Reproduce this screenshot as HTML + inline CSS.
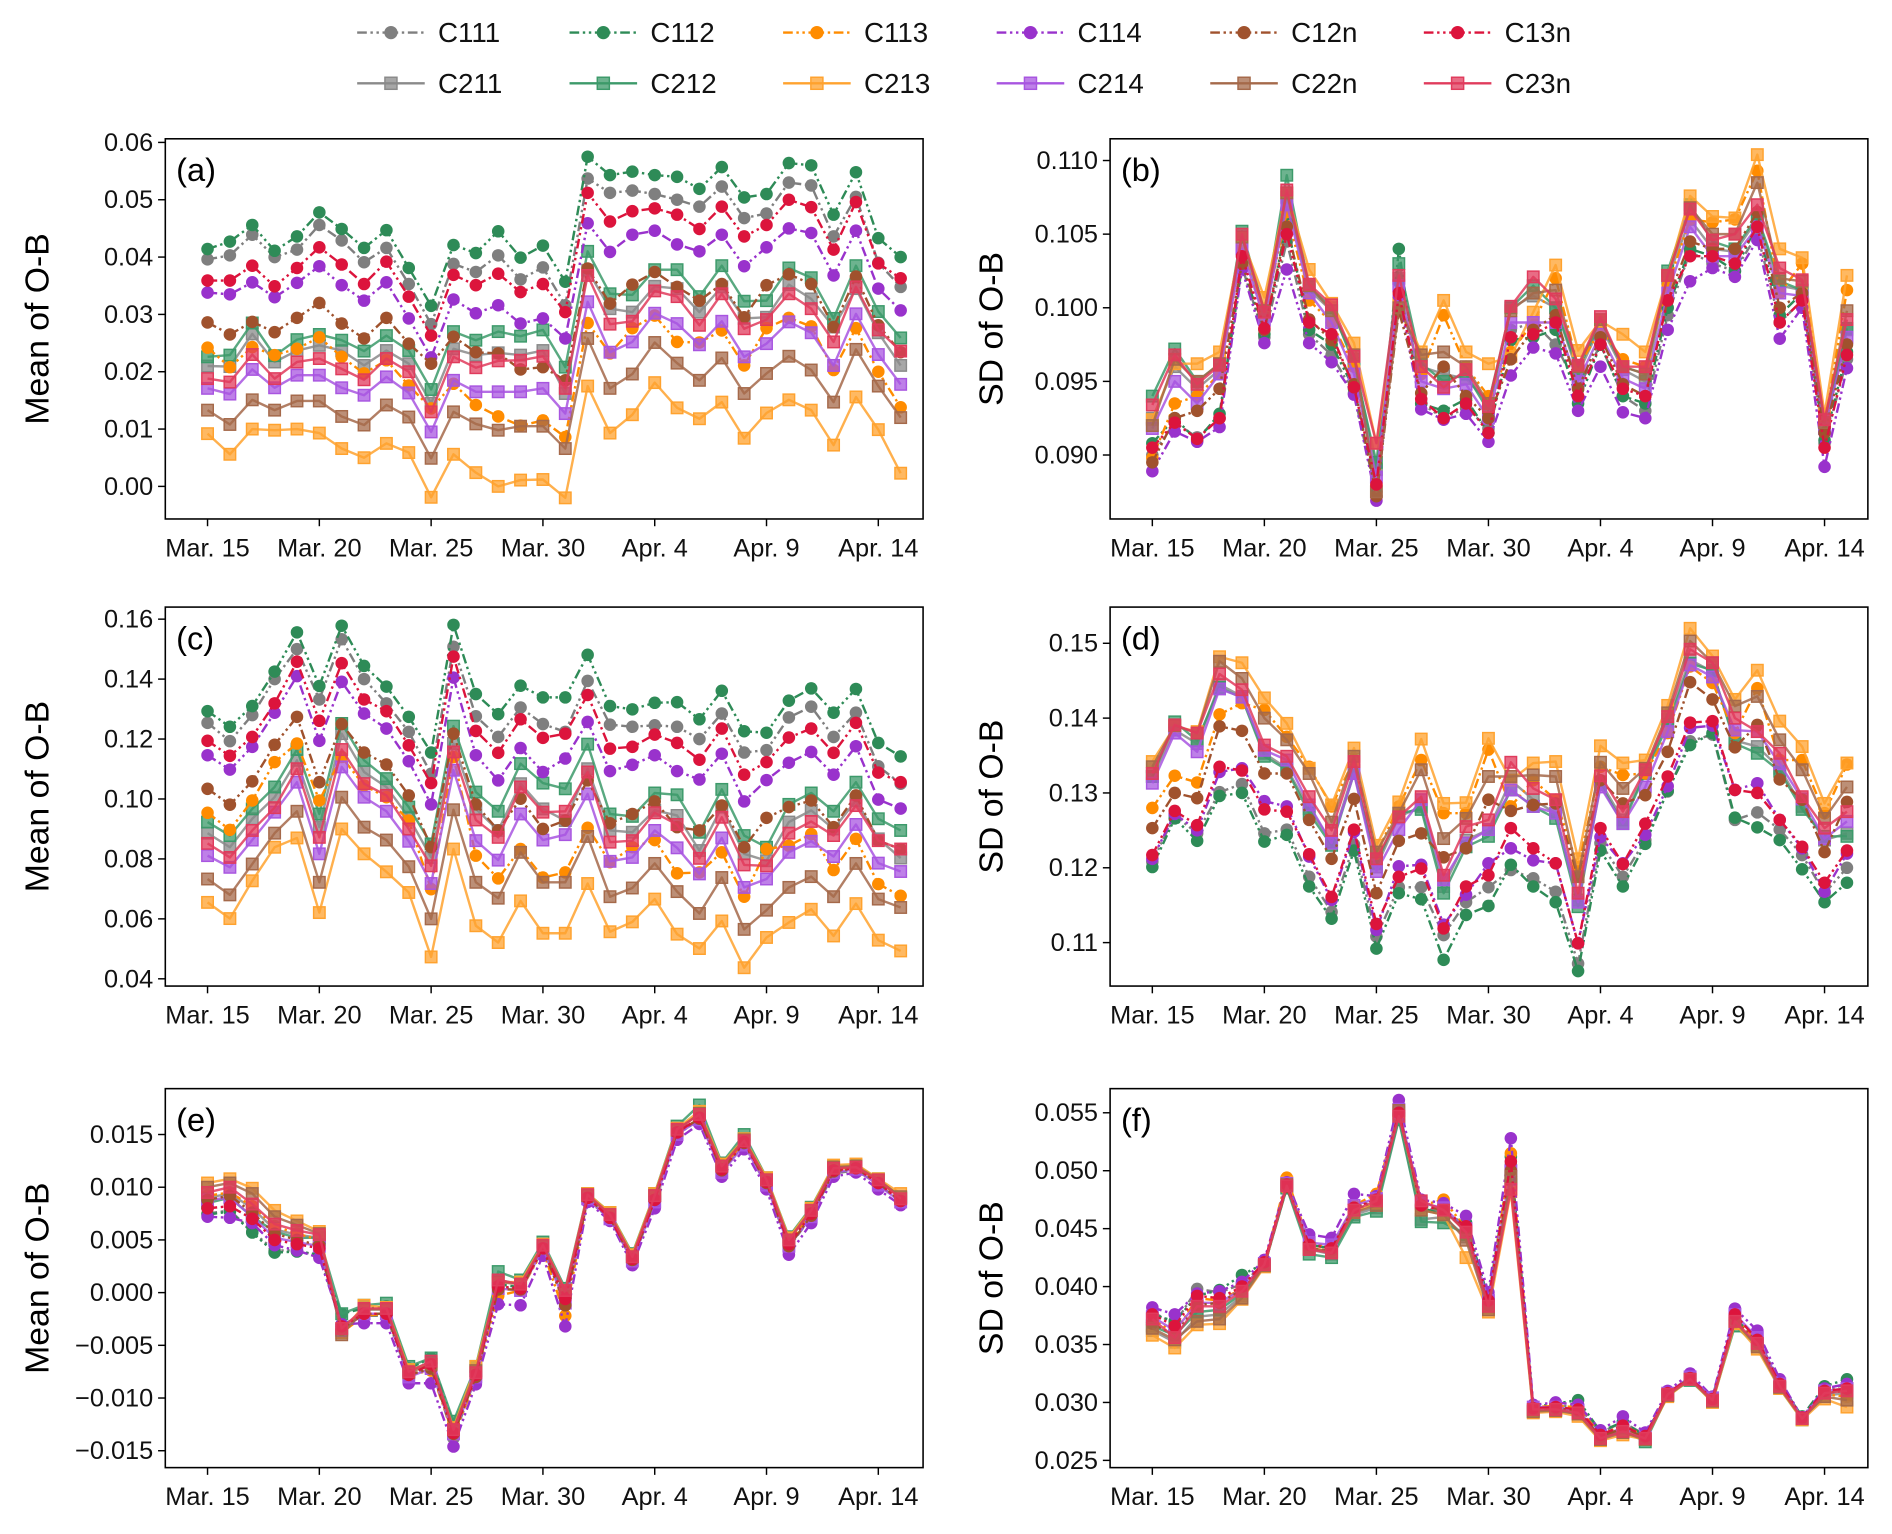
<!DOCTYPE html>
<html><head><meta charset="utf-8"><style>
html,body{margin:0;padding:0;background:#fff;}
svg{display:block;font-family:"Liberation Sans",sans-serif;}
</style></head><body>
<svg id="fig" width="1892" height="1534" viewBox="0 0 1568 1271" preserveAspectRatio="none" xmlns="http://www.w3.org/2000/svg"></svg>
<script>
const dates=["Mar. 15","Mar. 16","Mar. 17","Mar. 18","Mar. 19","Mar. 20","Mar. 21","Mar. 22","Mar. 23","Mar. 24","Mar. 25","Mar. 26","Mar. 27","Mar. 28","Mar. 29","Mar. 30","Mar. 31","Apr. 1","Apr. 2","Apr. 3","Apr. 4","Apr. 5","Apr. 6","Apr. 7","Apr. 8","Apr. 9","Apr. 10","Apr. 11","Apr. 12","Apr. 13","Apr. 14","Apr. 15"];
const xTickIdx=[0,5,10,15,20,25,30];
const seriesNames=["C111","C112","C113","C114","C12n","C13n","C211","C212","C213","C214","C22n","C23n"];
const seriesColors=["#7f7f7f","#2e8b57","#ff8c00","#9932cc","#a0522d","#dc143c","#8a8a8a","#3c9a6a","#ffa22e","#a855e0","#a5694a","#e03b5c"];

// Panel (a) Mean of O-B
const aC111=[0.0396,0.0403,0.0439,0.0400,0.0413,0.0456,0.0429,0.0391,0.0416,0.0353,0.0283,0.0388,0.0374,0.0403,0.0361,0.0382,0.0316,0.0537,0.0512,0.0516,0.0510,0.0500,0.0488,0.0523,0.0468,0.0476,0.0530,0.0525,0.0436,0.0505,0.0390,0.0348];
const aC112=[0.0414,0.0427,0.0456,0.0411,0.0436,0.0478,0.0449,0.0416,0.0447,0.0381,0.0315,0.0421,0.0407,0.0445,0.0399,0.0420,0.0357,0.0575,0.0543,0.0549,0.0543,0.0540,0.0519,0.0557,0.0504,0.0510,0.0564,0.0560,0.0474,0.0548,0.0433,0.0400];
const aC113=[0.0242,0.0208,0.0243,0.0229,0.0240,0.0260,0.0226,0.0197,0.0220,0.0176,0.0136,0.0179,0.0142,0.0122,0.0106,0.0115,0.0086,0.0285,0.0232,0.0276,0.0298,0.0252,0.0251,0.0272,0.0211,0.0276,0.0294,0.0279,0.0203,0.0276,0.0200,0.0138];
const aC114=[0.0338,0.0335,0.0356,0.0330,0.0355,0.0384,0.0351,0.0324,0.0356,0.0293,0.0225,0.0326,0.0302,0.0316,0.0284,0.0293,0.0258,0.0459,0.0409,0.0439,0.0446,0.0422,0.0410,0.0439,0.0384,0.0417,0.0450,0.0442,0.0368,0.0446,0.0345,0.0307];
const aC12n=[0.0286,0.0265,0.0287,0.0269,0.0294,0.0320,0.0284,0.0258,0.0294,0.0249,0.0214,0.0261,0.0234,0.0232,0.0204,0.0208,0.0185,0.0380,0.0319,0.0352,0.0374,0.0348,0.0324,0.0353,0.0295,0.0351,0.0370,0.0353,0.0278,0.0366,0.0281,0.0234];
const aC13n=[0.0359,0.0359,0.0385,0.0349,0.0381,0.0417,0.0387,0.0353,0.0392,0.0331,0.0263,0.0369,0.0351,0.0371,0.0339,0.0353,0.0304,0.0512,0.0462,0.0480,0.0485,0.0474,0.0449,0.0488,0.0436,0.0456,0.0500,0.0487,0.0413,0.0496,0.0389,0.0363];
const aC211=[0.0210,0.0209,0.0266,0.0217,0.0237,0.0246,0.0237,0.0211,0.0237,0.0214,0.0145,0.0240,0.0229,0.0233,0.0229,0.0237,0.0162,0.0377,0.0310,0.0304,0.0349,0.0345,0.0304,0.0348,0.0293,0.0295,0.0352,0.0327,0.0278,0.0345,0.0268,0.0211];
const aC212=[0.0226,0.0229,0.0285,0.0228,0.0256,0.0265,0.0255,0.0236,0.0263,0.0237,0.0169,0.0270,0.0255,0.0270,0.0262,0.0273,0.0208,0.0410,0.0336,0.0334,0.0378,0.0378,0.0331,0.0385,0.0323,0.0324,0.0381,0.0364,0.0293,0.0385,0.0305,0.0259];
const aC213=[0.0092,0.0056,0.0100,0.0098,0.0100,0.0093,0.0066,0.0050,0.0075,0.0059,-0.0019,0.0056,0.0024,0.0000,0.0011,0.0012,-0.0020,0.0175,0.0093,0.0125,0.0181,0.0137,0.0118,0.0147,0.0084,0.0128,0.0151,0.0133,0.0072,0.0156,0.0099,0.0023];
const aC214=[0.0171,0.0161,0.0204,0.0172,0.0194,0.0194,0.0172,0.0159,0.0191,0.0163,0.0095,0.0185,0.0165,0.0165,0.0165,0.0171,0.0127,0.0322,0.0234,0.0252,0.0302,0.0284,0.0247,0.0288,0.0226,0.0249,0.0287,0.0268,0.0211,0.0301,0.0230,0.0178];
const aC22n=[0.0133,0.0108,0.0151,0.0133,0.0149,0.0149,0.0122,0.0107,0.0142,0.0121,0.0049,0.0130,0.0109,0.0098,0.0105,0.0105,0.0066,0.0258,0.0171,0.0196,0.0251,0.0215,0.0185,0.0224,0.0162,0.0197,0.0227,0.0203,0.0147,0.0239,0.0175,0.0120];
const aC23n=[0.0188,0.0182,0.0230,0.0188,0.0217,0.0223,0.0205,0.0186,0.0223,0.0200,0.0130,0.0226,0.0207,0.0219,0.0220,0.0227,0.0171,0.0368,0.0283,0.0288,0.0341,0.0331,0.0281,0.0336,0.0275,0.0291,0.0336,0.0310,0.0252,0.0348,0.0273,0.0236];

// Panel (b) SD of O-B
const bC111=[0.0900,0.0922,0.0912,0.0925,0.1028,0.0980,0.1045,0.0982,0.0968,0.0942,0.0872,0.1020,0.0935,0.0925,0.0932,0.0918,0.0985,0.0990,0.0975,0.0945,0.0975,0.0940,0.0930,0.0995,0.1038,0.1030,0.1025,0.1050,0.0990,0.1005,0.0908,0.0965];
const bC112=[0.0908,0.0925,0.0910,0.0928,0.1030,0.0982,0.1058,0.0985,0.0975,0.0945,0.0875,0.1040,0.0935,0.0930,0.0938,0.0915,0.0978,0.0980,0.0985,0.0935,0.0975,0.0940,0.0935,0.1000,0.1040,0.1035,0.1025,0.1057,0.0995,0.1010,0.0910,0.0970];
const bC113=[0.0898,0.0935,0.0940,0.0955,0.1040,0.0995,0.1065,0.1005,0.0990,0.0960,0.0880,0.1005,0.0955,0.0995,0.0960,0.0940,0.0970,0.0990,0.1020,0.0960,0.0985,0.0965,0.0960,0.1015,0.1060,0.1058,0.1060,0.1093,0.1010,0.1030,0.0920,0.1012];
const bC114=[0.0889,0.0916,0.0909,0.0919,0.1026,0.0976,0.1026,0.0976,0.0963,0.0941,0.0869,0.1008,0.0931,0.0924,0.0928,0.0909,0.0954,0.0973,0.0969,0.0930,0.0960,0.0929,0.0925,0.0985,0.1018,0.1027,0.1021,0.1046,0.0979,0.1000,0.0892,0.0959];
const bC12n=[0.0895,0.0925,0.0930,0.0945,0.1030,0.0985,0.1055,0.0992,0.0978,0.0948,0.0872,0.0998,0.0942,0.0960,0.0940,0.0925,0.0965,0.0985,0.0995,0.0945,0.0980,0.0948,0.0940,0.1005,0.1045,0.1040,0.1040,0.1065,0.1000,0.1010,0.0915,0.0975];
const bC13n=[0.0905,0.0922,0.0911,0.0925,0.1035,0.0986,0.1050,0.0990,0.0982,0.0946,0.0880,0.1010,0.0938,0.0925,0.0935,0.0915,0.0980,0.0982,0.0990,0.0940,0.0975,0.0945,0.0940,0.1005,0.1035,0.1035,0.1030,0.1055,0.0990,0.1005,0.0905,0.0968];
const bC211=[0.0925,0.0960,0.0945,0.0958,0.1045,0.0995,0.1075,0.1012,0.0998,0.0965,0.0890,0.1020,0.0960,0.0955,0.0952,0.0935,0.1000,0.1008,0.1000,0.0955,0.0988,0.0958,0.0950,0.1020,0.1060,0.1040,0.1038,0.1060,0.1015,0.1012,0.0920,0.0985];
const bC212=[0.0940,0.0972,0.0950,0.0962,0.1052,0.0998,0.1090,0.1014,0.1000,0.0962,0.0895,0.1030,0.0962,0.0950,0.0955,0.0930,0.1000,0.1015,0.1000,0.0958,0.0990,0.0960,0.0955,0.1025,0.1070,0.1045,0.1040,0.1062,0.1018,0.1012,0.0918,0.0986];
const bC213=[0.0924,0.0962,0.0962,0.0970,0.1047,0.1007,0.1078,0.1026,0.1003,0.0976,0.0908,0.1003,0.0970,0.1005,0.0970,0.0962,0.0967,0.0997,0.1029,0.0971,0.0991,0.0982,0.0970,0.1022,0.1076,0.1062,0.1061,0.1104,0.1040,0.1034,0.0928,0.1022];
const bC214=[0.0918,0.0950,0.0935,0.0955,0.1040,0.0992,0.1070,0.1010,0.0990,0.0955,0.0885,0.1015,0.0950,0.0945,0.0948,0.0925,0.0990,0.0990,0.0990,0.0950,0.0982,0.0952,0.0945,0.1010,0.1055,0.1035,0.1035,0.1055,0.1010,0.1008,0.0918,0.0980];
const bC22n=[0.0920,0.0965,0.0950,0.0962,0.1048,0.0998,0.1078,0.1015,0.0998,0.0968,0.0875,0.1000,0.0968,0.0970,0.0960,0.0935,0.0998,0.1010,0.1012,0.0960,0.0992,0.0960,0.0955,0.1022,0.1068,0.1050,0.1050,0.1085,0.1020,0.1018,0.0922,0.0998];
const bC23n=[0.0934,0.0968,0.0948,0.0961,0.1050,0.0997,0.1080,0.1016,0.1002,0.0967,0.0908,0.1022,0.0960,0.0946,0.0958,0.0933,0.1001,0.1021,0.1006,0.0961,0.0994,0.0960,0.0960,0.1022,0.1067,0.1046,0.1050,0.1070,0.1027,0.1019,0.0924,0.0992];

// Panel (c) Mean of O-B
const cC111=[0.1254,0.1193,0.1280,0.1400,0.1500,0.1332,0.1533,0.1400,0.1319,0.1224,0.1084,0.1508,0.1276,0.1207,0.1305,0.1250,0.1224,0.1394,0.1248,0.1241,0.1246,0.1241,0.1200,0.1285,0.1155,0.1163,0.1272,0.1308,0.1207,0.1288,0.1109,0.1051];
const cC112=[0.1293,0.1241,0.1310,0.1425,0.1556,0.1377,0.1578,0.1444,0.1375,0.1274,0.1155,0.1581,0.1350,0.1283,0.1378,0.1339,0.1339,0.1481,0.1310,0.1299,0.1321,0.1323,0.1266,0.1361,0.1226,0.1221,0.1328,0.1369,0.1288,0.1367,0.1187,0.1142];
const cC113=[0.0954,0.0897,0.0995,0.1123,0.1185,0.0995,0.1140,0.1045,0.1006,0.0928,0.0699,0.1140,0.0811,0.0735,0.0833,0.0738,0.0755,0.0904,0.0789,0.0839,0.0863,0.0752,0.0755,0.0822,0.0674,0.0833,0.0844,0.0883,0.0763,0.0867,0.0716,0.0677];
const cC114=[0.1146,0.1098,0.1174,0.1288,0.1410,0.1194,0.1391,0.1285,0.1235,0.1126,0.0982,0.1405,0.1146,0.1062,0.1170,0.1090,0.1135,0.1257,0.1093,0.1114,0.1146,0.1093,0.1065,0.1151,0.0992,0.1063,0.1121,0.1157,0.1081,0.1176,0.0998,0.0968];
const cC12n=[0.1034,0.0981,0.1059,0.1181,0.1274,0.1056,0.1250,0.1155,0.1115,0.1012,0.0839,0.1218,0.0982,0.0895,0.1001,0.0900,0.0928,0.1062,0.0919,0.0950,0.0992,0.0906,0.0895,0.0978,0.0839,0.0937,0.0973,0.0995,0.0906,0.1012,0.0861,0.0833];
const cC13n=[0.1194,0.1144,0.1207,0.1319,0.1458,0.1261,0.1453,0.1332,0.1293,0.1179,0.1053,0.1475,0.1227,0.1154,0.1266,0.1204,0.1218,0.1347,0.1168,0.1174,0.1215,0.1187,0.1131,0.1235,0.1081,0.1123,0.1205,0.1235,0.1154,0.1254,0.1088,0.1056];
const cC211=[0.0886,0.0839,0.0934,0.1006,0.1129,0.0906,0.1218,0.1090,0.1040,0.0939,0.0805,0.1185,0.0967,0.0895,0.1051,0.0967,0.0928,0.1101,0.0895,0.0889,0.0962,0.0945,0.0828,0.0973,0.0817,0.0794,0.0923,0.0962,0.0900,0.0995,0.0867,0.0803];
const cC212=[0.0923,0.0878,0.0967,0.1040,0.1165,0.0950,0.1252,0.1129,0.1068,0.0973,0.0850,0.1243,0.1023,0.0959,0.1118,0.1053,0.1034,0.1183,0.0950,0.0942,0.1020,0.1014,0.0889,0.1032,0.0878,0.0839,0.0982,0.1020,0.0959,0.1056,0.0934,0.0895];
const cC213=[0.0655,0.0601,0.0727,0.0839,0.0870,0.0621,0.0900,0.0817,0.0757,0.0688,0.0473,0.0833,0.0577,0.0521,0.0660,0.0552,0.0552,0.0718,0.0557,0.0590,0.0666,0.0549,0.0501,0.0593,0.0437,0.0538,0.0588,0.0632,0.0543,0.0651,0.0529,0.0493];
const cC214=[0.0811,0.0772,0.0863,0.0956,0.1056,0.0817,0.1107,0.1006,0.0959,0.0859,0.0718,0.1096,0.0861,0.0796,0.0950,0.0863,0.0881,0.1017,0.0792,0.0805,0.0895,0.0837,0.0750,0.0870,0.0705,0.0733,0.0822,0.0859,0.0808,0.0915,0.0786,0.0758];
const cC22n=[0.0733,0.0680,0.0783,0.0886,0.0959,0.0722,0.1006,0.0906,0.0863,0.0774,0.0600,0.0964,0.0722,0.0669,0.0822,0.0722,0.0722,0.0875,0.0674,0.0703,0.0785,0.0691,0.0618,0.0738,0.0565,0.0629,0.0705,0.0741,0.0674,0.0785,0.0666,0.0638];
const cC23n=[0.0852,0.0805,0.0895,0.0971,0.1101,0.0872,0.1165,0.1051,0.1012,0.0900,0.0777,0.1157,0.0930,0.0872,0.1040,0.0956,0.0959,0.1090,0.0856,0.0861,0.0954,0.0915,0.0802,0.0939,0.0780,0.0777,0.0886,0.0925,0.0878,0.0978,0.0861,0.0833];

// Panel (d) SD of O-B
const dC111=[0.1208,0.1270,0.1246,0.1301,0.1312,0.1246,0.1251,0.1188,0.1141,0.1231,0.1108,0.1174,0.1174,0.1110,0.1154,0.1174,0.1197,0.1186,0.1168,0.1072,0.1233,0.1188,0.1237,0.1302,0.1369,0.1378,0.1264,0.1274,0.1251,0.1217,0.1166,0.1200];
const dC112=[0.1201,0.1266,0.1236,0.1296,0.1300,0.1235,0.1244,0.1175,0.1132,0.1223,0.1092,0.1166,0.1158,0.1077,0.1137,0.1149,0.1204,0.1175,0.1154,0.1062,0.1223,0.1175,0.1232,0.1303,0.1364,0.1380,0.1267,0.1254,0.1237,0.1198,0.1154,0.1180];
const dC113=[0.1280,0.1323,0.1314,0.1405,0.1420,0.1411,0.1375,0.1335,0.1282,0.1344,0.1219,0.1282,0.1344,0.1273,0.1273,0.1358,0.1282,0.1317,0.1291,0.1201,0.1335,0.1324,0.1326,0.1380,0.1469,0.1447,0.1380,0.1440,0.1344,0.1344,0.1273,0.1338];
const dC114=[0.1212,0.1272,0.1250,0.1328,0.1333,0.1289,0.1282,0.1215,0.1157,0.1248,0.1117,0.1202,0.1204,0.1124,0.1164,0.1206,0.1226,0.1210,0.1206,0.1099,0.1241,0.1206,0.1244,0.1309,0.1387,0.1390,0.1304,0.1313,0.1264,0.1226,0.1168,0.1219];
const dC12n=[0.1253,0.1300,0.1293,0.1389,0.1383,0.1326,0.1326,0.1264,0.1212,0.1292,0.1166,0.1236,0.1246,0.1214,0.1226,0.1291,0.1276,0.1284,0.1286,0.1188,0.1317,0.1286,0.1297,0.1355,0.1448,0.1425,0.1361,0.1391,0.1318,0.1291,0.1221,0.1288];
const dC13n=[0.1217,0.1276,0.1257,0.1335,0.1330,0.1278,0.1275,0.1218,0.1161,0.1251,0.1125,0.1188,0.1199,0.1119,0.1175,0.1190,0.1253,0.1226,0.1206,0.1099,0.1253,0.1205,0.1259,0.1322,0.1394,0.1396,0.1304,0.1300,0.1264,0.1228,0.1180,0.1223];
const dC211=[0.1322,0.1384,0.1366,0.1445,0.1429,0.1353,0.1333,0.1279,0.1235,0.1330,0.1201,0.1268,0.1282,0.1175,0.1237,0.1251,0.1317,0.1291,0.1273,0.1157,0.1315,0.1264,0.1328,0.1398,0.1478,0.1462,0.1370,0.1362,0.1333,0.1282,0.1237,0.1246];
const dC212=[0.1322,0.1395,0.1370,0.1441,0.1427,0.1349,0.1331,0.1273,0.1230,0.1326,0.1206,0.1273,0.1278,0.1166,0.1228,0.1242,0.1304,0.1282,0.1266,0.1148,0.1311,0.1259,0.1326,0.1391,0.1473,0.1464,0.1366,0.1353,0.1329,0.1278,0.1242,0.1242];
const dC213=[0.1342,0.1389,0.1382,0.1482,0.1474,0.1427,0.1393,0.1333,0.1284,0.1360,0.1230,0.1288,0.1372,0.1286,0.1287,0.1373,0.1317,0.1340,0.1342,0.1212,0.1363,0.1340,0.1344,0.1417,0.1520,0.1483,0.1425,0.1464,0.1396,0.1362,0.1286,0.1340];
const dC214=[0.1313,0.1380,0.1355,0.1439,0.1428,0.1357,0.1344,0.1284,0.1233,0.1326,0.1195,0.1251,0.1291,0.1184,0.1233,0.1251,0.1304,0.1282,0.1273,0.1154,0.1308,0.1259,0.1308,0.1382,0.1471,0.1455,0.1384,0.1382,0.1339,0.1292,0.1239,0.1262];
const dC22n=[0.1335,0.1390,0.1380,0.1476,0.1453,0.1400,0.1371,0.1326,0.1261,0.1349,0.1221,0.1273,0.1331,0.1239,0.1266,0.1322,0.1322,0.1324,0.1322,0.1188,0.1341,0.1306,0.1333,0.1407,0.1503,0.1474,0.1416,0.1429,0.1371,0.1331,0.1266,0.1308];
const dC23n=[0.1326,0.1391,0.1380,0.1459,0.1438,0.1364,0.1349,0.1295,0.1250,0.1342,0.1212,0.1268,0.1295,0.1190,0.1255,0.1264,0.1341,0.1306,0.1291,0.1166,0.1323,0.1275,0.1331,0.1402,0.1492,0.1474,0.1400,0.1382,0.1353,0.1295,0.1253,0.1275];

// Panel (e) Mean of O-B
const eC111=[0.0075,0.0078,0.0058,0.0040,0.0040,0.0035,-0.0030,-0.0022,-0.0022,-0.0080,-0.0070,-0.0138,-0.0080,0.0005,0.0004,0.0040,-0.0005,0.0088,0.0070,0.0030,0.0085,0.0150,0.0164,0.0116,0.0140,0.0102,0.0043,0.0072,0.0113,0.0116,0.0103,0.0086];
const eC112=[0.0074,0.0077,0.0057,0.0038,0.0039,0.0036,-0.0020,-0.0015,-0.0013,-0.0072,-0.0062,-0.0125,-0.0075,0.0008,0.0005,0.0043,0.0000,0.0091,0.0072,0.0034,0.0090,0.0154,0.0170,0.0118,0.0146,0.0106,0.0046,0.0074,0.0117,0.0118,0.0105,0.0087];
const eC113=[0.0092,0.0095,0.0082,0.0063,0.0056,0.0050,-0.0038,-0.0022,-0.0020,-0.0078,-0.0074,-0.0135,-0.0083,-0.0003,0.0002,0.0040,-0.0022,0.0090,0.0072,0.0032,0.0090,0.0152,0.0165,0.0117,0.0143,0.0104,0.0045,0.0076,0.0117,0.0119,0.0106,0.0090];
const eC114=[0.0072,0.0071,0.0066,0.0045,0.0040,0.0033,-0.0030,-0.0029,-0.0029,-0.0086,-0.0086,-0.0146,-0.0087,-0.0011,-0.0012,0.0035,-0.0032,0.0086,0.0068,0.0026,0.0080,0.0145,0.0160,0.0110,0.0136,0.0098,0.0036,0.0066,0.0110,0.0114,0.0098,0.0083];
const eC12n=[0.0088,0.0092,0.0076,0.0056,0.0050,0.0045,-0.0035,-0.0020,-0.0020,-0.0078,-0.0072,-0.0134,-0.0080,0.0003,0.0003,0.0042,-0.0012,0.0090,0.0071,0.0031,0.0088,0.0152,0.0165,0.0116,0.0142,0.0104,0.0044,0.0073,0.0115,0.0118,0.0104,0.0087];
const eC13n=[0.0080,0.0082,0.0070,0.0050,0.0046,0.0042,-0.0032,-0.0020,-0.0020,-0.0078,-0.0068,-0.0133,-0.0078,0.0006,0.0004,0.0042,-0.0006,0.0090,0.0071,0.0032,0.0088,0.0152,0.0166,0.0117,0.0143,0.0105,0.0046,0.0075,0.0116,0.0118,0.0104,0.0087];
const eC211=[0.0090,0.0094,0.0080,0.0060,0.0055,0.0052,-0.0035,-0.0016,-0.0016,-0.0074,-0.0066,-0.0128,-0.0074,0.0012,0.0008,0.0045,0.0000,0.0092,0.0074,0.0034,0.0092,0.0155,0.0170,0.0121,0.0146,0.0107,0.0050,0.0078,0.0118,0.0120,0.0107,0.0090];
const eC212=[0.0085,0.0090,0.0072,0.0058,0.0052,0.0052,-0.0020,-0.0012,-0.0010,-0.0070,-0.0062,-0.0122,-0.0070,0.0020,0.0012,0.0048,0.0004,0.0094,0.0076,0.0037,0.0094,0.0158,0.0178,0.0123,0.0150,0.0109,0.0053,0.0081,0.0120,0.0121,0.0108,0.0090];
const eC213=[0.0104,0.0108,0.0099,0.0078,0.0068,0.0058,-0.0038,-0.0012,-0.0014,-0.0073,-0.0068,-0.0128,-0.0070,0.0010,0.0010,0.0046,0.0002,0.0094,0.0076,0.0036,0.0094,0.0156,0.0172,0.0122,0.0146,0.0109,0.0052,0.0080,0.0121,0.0122,0.0108,0.0094];
const eC214=[0.0088,0.0090,0.0072,0.0052,0.0048,0.0044,-0.0036,-0.0020,-0.0020,-0.0080,-0.0072,-0.0134,-0.0080,0.0004,0.0002,0.0042,-0.0010,0.0089,0.0070,0.0030,0.0086,0.0150,0.0164,0.0114,0.0140,0.0102,0.0044,0.0072,0.0114,0.0117,0.0102,0.0086];
const eC22n=[0.0100,0.0104,0.0094,0.0072,0.0064,0.0056,-0.0040,-0.0016,-0.0016,-0.0076,-0.0068,-0.0130,-0.0074,0.0010,0.0008,0.0044,0.0000,0.0092,0.0074,0.0034,0.0092,0.0154,0.0170,0.0120,0.0145,0.0107,0.0050,0.0078,0.0119,0.0120,0.0107,0.0091];
const eC23n=[0.0095,0.0100,0.0084,0.0065,0.0059,0.0055,-0.0034,-0.0015,-0.0015,-0.0075,-0.0065,-0.0130,-0.0076,0.0012,0.0008,0.0045,0.0002,0.0093,0.0074,0.0034,0.0092,0.0155,0.0169,0.0120,0.0144,0.0107,0.0050,0.0078,0.0118,0.0119,0.0107,0.0089];

// Panel (f) SD of O-B
const fC111=[0.0378,0.0368,0.0398,0.0395,0.0402,0.0420,0.0488,0.0437,0.0434,0.0467,0.0472,0.0552,0.0468,0.0464,0.0452,0.0390,0.0505,0.0295,0.0297,0.0297,0.0274,0.0283,0.0272,0.0308,0.0322,0.0303,0.0374,0.0356,0.0318,0.0287,0.0310,0.0316];
const fC112=[0.0376,0.0370,0.0392,0.0397,0.0410,0.0420,0.0485,0.0436,0.0433,0.0468,0.0470,0.0548,0.0468,0.0462,0.0455,0.0390,0.0512,0.0296,0.0299,0.0302,0.0275,0.0283,0.0271,0.0308,0.0320,0.0305,0.0372,0.0355,0.0316,0.0288,0.0314,0.0320];
const fC113=[0.0372,0.0360,0.0390,0.0388,0.0398,0.0420,0.0494,0.0438,0.0434,0.0470,0.0480,0.0552,0.0470,0.0475,0.0450,0.0385,0.0515,0.0296,0.0297,0.0296,0.0272,0.0280,0.0271,0.0308,0.0322,0.0302,0.0372,0.0354,0.0315,0.0286,0.0307,0.0305];
const fC114=[0.0382,0.0376,0.0394,0.0396,0.0404,0.0423,0.0490,0.0445,0.0442,0.0480,0.0478,0.0561,0.0475,0.0472,0.0461,0.0395,0.0528,0.0298,0.0300,0.0298,0.0276,0.0288,0.0274,0.0310,0.0325,0.0305,0.0381,0.0362,0.0320,0.0287,0.0312,0.0316];
const fC12n=[0.0368,0.0358,0.0384,0.0386,0.0397,0.0418,0.0486,0.0433,0.0431,0.0468,0.0474,0.0550,0.0470,0.0466,0.0448,0.0384,0.0500,0.0294,0.0295,0.0293,0.0270,0.0278,0.0270,0.0307,0.0321,0.0302,0.0371,0.0352,0.0314,0.0286,0.0308,0.0310];
const fC13n=[0.0376,0.0366,0.0392,0.0390,0.0400,0.0421,0.0488,0.0436,0.0433,0.0468,0.0475,0.0550,0.0470,0.0466,0.0452,0.0388,0.0508,0.0295,0.0296,0.0294,0.0272,0.0280,0.0271,0.0308,0.0321,0.0303,0.0376,0.0354,0.0316,0.0287,0.0310,0.0312];
const fC211=[0.0362,0.0352,0.0374,0.0376,0.0392,0.0418,0.0486,0.0432,0.0428,0.0462,0.0468,0.0545,0.0458,0.0460,0.0443,0.0382,0.0488,0.0293,0.0294,0.0291,0.0269,0.0275,0.0268,0.0306,0.0320,0.0302,0.0368,0.0350,0.0313,0.0286,0.0306,0.0308];
const fC212=[0.0366,0.0358,0.0378,0.0380,0.0394,0.0418,0.0485,0.0428,0.0425,0.0460,0.0465,0.0544,0.0456,0.0455,0.0445,0.0385,0.0490,0.0292,0.0293,0.0290,0.0270,0.0276,0.0266,0.0306,0.0319,0.0301,0.0366,0.0349,0.0312,0.0285,0.0307,0.0312];
const fC213=[0.0358,0.0347,0.0367,0.0368,0.0389,0.0417,0.0490,0.0434,0.0430,0.0464,0.0472,0.0550,0.0466,0.0462,0.0425,0.0378,0.0482,0.0291,0.0292,0.0288,0.0267,0.0272,0.0268,0.0305,0.0320,0.0300,0.0368,0.0346,0.0312,0.0285,0.0303,0.0296];
const fC214=[0.0374,0.0362,0.0386,0.0386,0.0398,0.0420,0.0489,0.0438,0.0436,0.0470,0.0476,0.0553,0.0472,0.0468,0.0450,0.0388,0.0500,0.0296,0.0296,0.0293,0.0271,0.0278,0.0270,0.0308,0.0322,0.0304,0.0376,0.0356,0.0316,0.0287,0.0310,0.0312];
const fC22n=[0.0364,0.0354,0.0370,0.0372,0.0390,0.0418,0.0488,0.0433,0.0430,0.0464,0.0470,0.0552,0.0466,0.0462,0.0440,0.0380,0.0495,0.0292,0.0293,0.0290,0.0268,0.0274,0.0268,0.0306,0.0320,0.0301,0.0370,0.0348,0.0313,0.0286,0.0305,0.0302];
const fC23n=[0.0372,0.0356,0.0383,0.0383,0.0396,0.0419,0.0487,0.0432,0.0429,0.0466,0.0474,0.0547,0.0474,0.0466,0.0447,0.0383,0.0484,0.0294,0.0294,0.0291,0.0269,0.0275,0.0269,0.0307,0.0320,0.0302,0.0370,0.0351,0.0314,0.0286,0.0308,0.0310];

const aTicks=[0.00,0.01,0.02,0.03,0.04,0.05,0.06];
const aTickLabels=["0.00","0.01","0.02","0.03","0.04","0.05","0.06"];
const bTicks=[0.090,0.095,0.100,0.105,0.110];
const bTickLabels=["0.090","0.095","0.100","0.105","0.110"];
const cTicks=[0.04,0.06,0.08,0.10,0.12,0.14,0.16];
const cTickLabels=["0.04","0.06","0.08","0.10","0.12","0.14","0.16"];
const dTicks=[0.11,0.12,0.13,0.14,0.15];
const dTickLabels=["0.11","0.12","0.13","0.14","0.15"];
const eTicks=[-0.015,-0.010,-0.005,0.000,0.005,0.010,0.015];
const eTickLabels=["\u22120.015","\u22120.010","\u22120.005","0.000","0.005","0.010","0.015"];
const fTicks=[0.025,0.030,0.035,0.040,0.045,0.050,0.055];
const fTickLabels=["0.025","0.030","0.035","0.040","0.045","0.050","0.055"];

const NS="http://www.w3.org/2000/svg";
const svg=document.getElementById('fig');
function el(tag,attrs,parent){const e=document.createElementNS(NS,tag);for(const k in attrs)e.setAttribute(k,attrs[k]);(parent||svg).appendChild(e);return e;}
function txt(s,attrs,parent){const t=el('text',attrs,parent);t.textContent=s;return t;}

function marker(g,name,idx,x,y,big){
  const col=seriesColors[idx];
  if(idx<6){
    const c=el('circle',{cx:x,cy:y,r:big?5.5:5.2,fill:col},g);
    
    
  }else{
    const s=big?10:9.5;
    const r=el('rect',{x:x-s/2,y:y-s/2,width:s,height:s,fill:col,'fill-opacity':0.75,stroke:col,'stroke-width':1.2},g);
    
    
  }
}

function panel(cfg){
  const g=el('g',{});
  
  
  const xs=i=>cfg.x0+i*cfg.dx;
  const ys=v=>cfg.yA+(v-cfg.vA)*(cfg.yB-cfg.yA)/(cfg.vB-cfg.vA);
  // y ticks
  cfg.ticks.forEach((t,k)=>{
    const y=ys(t);
    const tk=el('line',{x1:cfg.L-6,x2:cfg.L,y1:y,y2:y,stroke:'#000','stroke-width':1.2},g);
    
    
    const tl=txt(cfg.tickLabels[k],{x:cfg.L-10,y:y+7,'font-size':21,'text-anchor':'end',fill:'#111'},g);
    
    
  });
  xTickIdx.forEach(i=>{
    const x=xs(i);
    const tk=el('line',{x1:x,x2:x,y1:cfg.B,y2:cfg.B+6,stroke:'#000','stroke-width':1.2},g);
    
    
    const tl=txt(dates[i],{x:x,y:cfg.B+31,'font-size':21,'text-anchor':'middle',fill:'#111'},g);
    
    
  });
  // series
  const order=[0,6,1,7,2,8,3,9,4,10,5,11];
  order.forEach(idx=>{
    const data=cfg.series[idx];
    const sg=el('g',{},g);
    
    
    const pts=data.map((v,i)=>xs(i).toFixed(2)+','+ys(v).toFixed(2)).join(' ');
    const attrs={points:pts,fill:'none',stroke:seriesColors[idx],'stroke-width':2,'stroke-linejoin':'round'};
    if(idx<6){attrs['stroke-dasharray']='8,3,2,3,2,3';}else{attrs['stroke-opacity']=0.85;}
    const pl=el('polyline',attrs,sg);
    
    
    data.forEach((v,i)=>marker(sg,seriesNames[idx],idx,xs(i),ys(v),false));
  });
  const box=el('rect',{x:cfg.L,y:cfg.T,width:cfg.R-cfg.L,height:cfg.B-cfg.T,fill:'none',stroke:'#000','stroke-width':1.3},g);
  
  
  const lab=txt('('+cfg.id+')',{x:cfg.L+9,y:cfg.T+35,'font-size':27,fill:'#000'},g);
  
  
  const cy=(cfg.T+cfg.B)/2;
  const yt=txt(cfg.ytitle,{x:cfg.ytx,y:cy,'font-size':28,'text-anchor':'middle',fill:'#000',transform:'rotate(-90 '+cfg.ytx+' '+cy+')'},g);
  
  
}

const LX={L:137,R:765,x0:172,dx:18.53,ytx:40};
const RX={L:920,R:1548,x0:955,dx:18.57,ytx:831};
panel(Object.assign({id:'a',T:115,B:430,vA:0.06,yA:118,vB:0.00,yB:403,ticks:aTicks,tickLabels:aTickLabels,ytitle:'Mean of O-B',series:[aC111,aC112,aC113,aC114,aC12n,aC13n,aC211,aC212,aC213,aC214,aC22n,aC23n]},LX));
panel(Object.assign({id:'b',T:115,B:430,vA:0.110,yA:133,vB:0.090,yB:377,ticks:bTicks,tickLabels:bTickLabels,ytitle:'SD of O-B',series:[bC111,bC112,bC113,bC114,bC12n,bC13n,bC211,bC212,bC213,bC214,bC22n,bC23n]},RX));
panel(Object.assign({id:'c',T:503,B:817,vA:0.16,yA:513,vB:0.04,yB:811,ticks:cTicks,tickLabels:cTickLabels,ytitle:'Mean of O-B',series:[cC111,cC112,cC113,cC114,cC12n,cC13n,cC211,cC212,cC213,cC214,cC22n,cC23n]},LX));
panel(Object.assign({id:'d',T:503,B:817,vA:0.15,yA:533,vB:0.11,yB:781,ticks:dTicks,tickLabels:dTickLabels,ytitle:'SD of O-B',series:[dC111,dC112,dC113,dC114,dC12n,dC13n,dC211,dC212,dC213,dC214,dC22n,dC23n]},RX));
panel(Object.assign({id:'e',T:902,B:1216,vA:0.015,yA:940,vB:-0.015,yB:1202,ticks:eTicks,tickLabels:eTickLabels,ytitle:'Mean of O-B',series:[eC111,eC112,eC113,eC114,eC12n,eC13n,eC211,eC212,eC213,eC214,eC22n,eC23n]},LX));
panel(Object.assign({id:'f',T:902,B:1216,vA:0.055,yA:922,vB:0.025,yB:1210,ticks:fTicks,tickLabels:fTickLabels,ytitle:'SD of O-B',series:[fC111,fC112,fC113,fC114,fC12n,fC13n,fC211,fC212,fC213,fC214,fC22n,fC23n]},RX));

// legend
const lg=el('g',{});


const colX=[296,472,649,826,1003,1180];
seriesNames.forEach((n,idx)=>{
  const col=idx%6,row=idx<6?0:1;
  const x=colX[col],y=row===0?27:69;
  const eg=el('g',{},lg);
  
  
  const attrs={x1:x,x2:x+56,y1:y,y2:y,stroke:seriesColors[idx],'stroke-width':2};
  if(idx<6)attrs['stroke-dasharray']='8,3,2,3,2,3';
  el('line',attrs,eg);
  marker(eg,'legend-'+n,idx,x+28,y,true);
  const t=txt(n,{x:x+67,y:y+8,'font-size':23,fill:'#111'},eg);
  
  
});
</script>
</body></html>
